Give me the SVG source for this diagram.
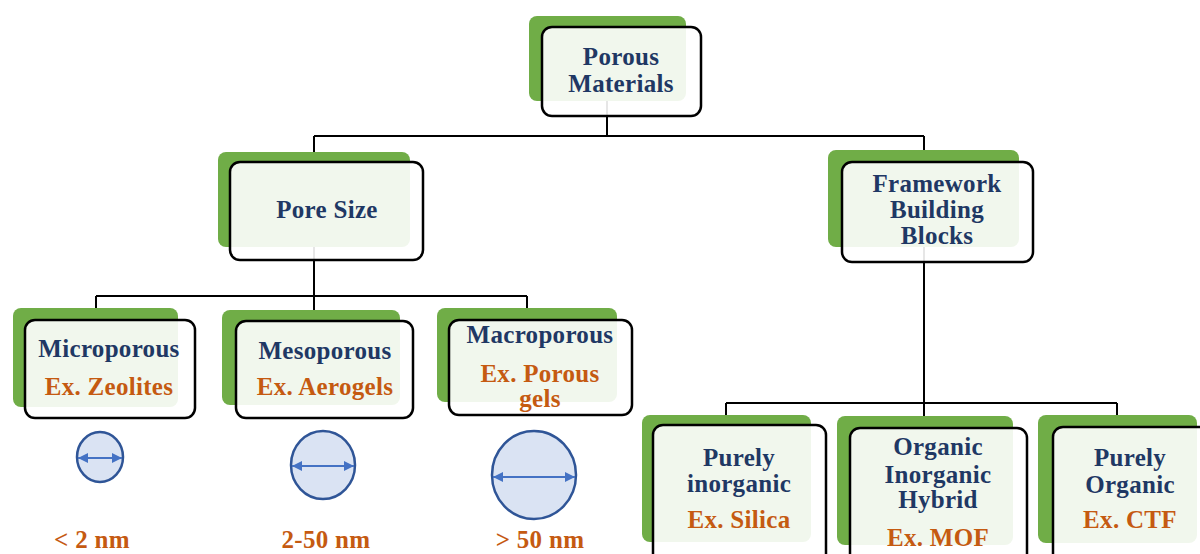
<svg xmlns="http://www.w3.org/2000/svg" width="1200" height="554" viewBox="0 0 1200 554">
<defs>
<style>
.g{fill:#70AD47}
.o{fill:#fff;fill-opacity:0.9;stroke:#000;stroke-width:2.5}
.t{font-family:"Liberation Serif","Times New Roman",serif;font-weight:bold;font-size:25px;text-anchor:middle;letter-spacing:0.3px}
.n{fill:#1F3864}
.x{fill:#C55A11}
.c{fill:none;stroke:#000;stroke-width:2}
.p{fill:#DAE3F3;stroke:#2F5597;stroke-width:2.5}
.a{stroke:#4472C4;stroke-width:1.8;fill:none}
</style>
<marker id="ah" viewBox="0 0 10 10" refX="10" refY="5" markerWidth="10" markerHeight="10" markerUnits="userSpaceOnUse" orient="auto-start-reverse">
<path d="M0,0 L10,5 L0,10 Z" fill="#4472C4"/>
</marker>
</defs>
<rect width="1200" height="554" fill="#fff"/>
<g id="connectors">
<path class="c" d="M607,60 V136 M314,136 H924 M314,136 V210 M924,136 V200"/>
<path class="c" d="M314,210 V296 M96,296 H527 M96,296 V330 M314,296 V330 M527,296 V330"/>
<path class="c" d="M924,200 V403 M726,403 H1117 M726,403 V440 M924,403 V440 M1117,403 V440"/>
</g>
<g id="porous-materials">
<rect class="g" x="529" y="16" width="157" height="85" rx="8"/>
<rect class="o" x="542" y="27" width="159" height="89" rx="10"/>
<text class="t n" x="621" y="65">Porous</text>
<text class="t n" x="621" y="92">Materials</text>
</g>
<g id="pore-size">
<rect class="g" x="218" y="152" width="192" height="95" rx="8"/>
<rect class="o" x="230" y="162" width="193" height="98" rx="10"/>
<text class="t n" x="327" y="218">Pore Size</text>
</g>
<g id="framework">
<rect class="g" x="828" y="150" width="191" height="97" rx="8"/>
<rect class="o" x="842" y="162" width="191" height="100" rx="10"/>
<text class="t n" x="937" y="192">Framework</text>
<text class="t n" x="937" y="218">Building</text>
<text class="t n" x="937" y="244">Blocks</text>
</g>
<g id="microporous">
<rect class="g" x="13" y="308" width="165" height="99" rx="8"/>
<rect class="o" x="25" y="320" width="170" height="98" rx="10"/>
<text class="t n" x="109" y="357">Microporous</text>
<text class="t x" x="109" y="395">Ex. Zeolites</text>
</g>
<g id="mesoporous">
<rect class="g" x="222" y="310" width="178" height="95" rx="8"/>
<rect class="o" x="236" y="321" width="177" height="97" rx="10"/>
<text class="t n" x="325" y="359">Mesoporous</text>
<text class="t x" x="325" y="395">Ex. Aerogels</text>
</g>
<g id="macroporous">
<rect class="g" x="437" y="308" width="180" height="94" rx="8"/>
<rect class="o" x="449" y="320" width="183" height="95" rx="10"/>
<text class="t n" x="540" y="343">Macroporous</text>
<text class="t x" x="540" y="382">Ex. Porous</text>
<text class="t x" x="540" y="407">gels</text>
</g>
<g id="purely-inorganic">
<rect class="g" x="642" y="415" width="169" height="127" rx="8"/>
<rect class="o" x="653" y="425" width="173" height="140" rx="10"/>
<text class="t n" x="739" y="466">Purely</text>
<text class="t n" x="739" y="492">inorganic</text>
<text class="t x" x="739" y="528">Ex. Silica</text>
</g>
<g id="hybrid">
<rect class="g" x="837" y="416" width="176" height="129" rx="8"/>
<rect class="o" x="850" y="428" width="177" height="140" rx="10"/>
<text class="t n" x="938" y="455">Organic</text>
<text class="t n" x="938" y="483">Inorganic</text>
<text class="t n" x="938" y="508">Hybrid</text>
<text class="t x" x="938" y="546">Ex. MOF</text>
</g>
<g id="purely-organic">
<rect class="g" x="1038" y="415" width="159" height="128" rx="8"/>
<rect class="o" x="1053" y="427" width="170" height="140" rx="10"/>
<text class="t n" x="1130" y="466">Purely</text>
<text class="t n" x="1130" y="493">Organic</text>
<text class="t x" x="1130" y="528">Ex. CTF</text>
</g>
<g id="pore-micro">
<ellipse class="p" cx="100" cy="457" rx="23" ry="25"/>
<line class="a" x1="78" y1="458" x2="122" y2="458" marker-start="url(#ah)" marker-end="url(#ah)"/>
<text class="t x" x="92" y="548">&lt; 2 nm</text>
</g>
<g id="pore-meso">
<ellipse class="p" cx="323" cy="465" rx="32" ry="34"/>
<line class="a" x1="292" y1="466" x2="354" y2="466" marker-start="url(#ah)" marker-end="url(#ah)"/>
<text class="t x" x="326" y="548">2-50 nm</text>
</g>
<g id="pore-macro">
<ellipse class="p" cx="534" cy="475" rx="42" ry="44"/>
<line class="a" x1="493" y1="477" x2="575" y2="477" marker-start="url(#ah)" marker-end="url(#ah)"/>
<text class="t x" x="540" y="548">&gt; 50 nm</text>
</g>
</svg>
